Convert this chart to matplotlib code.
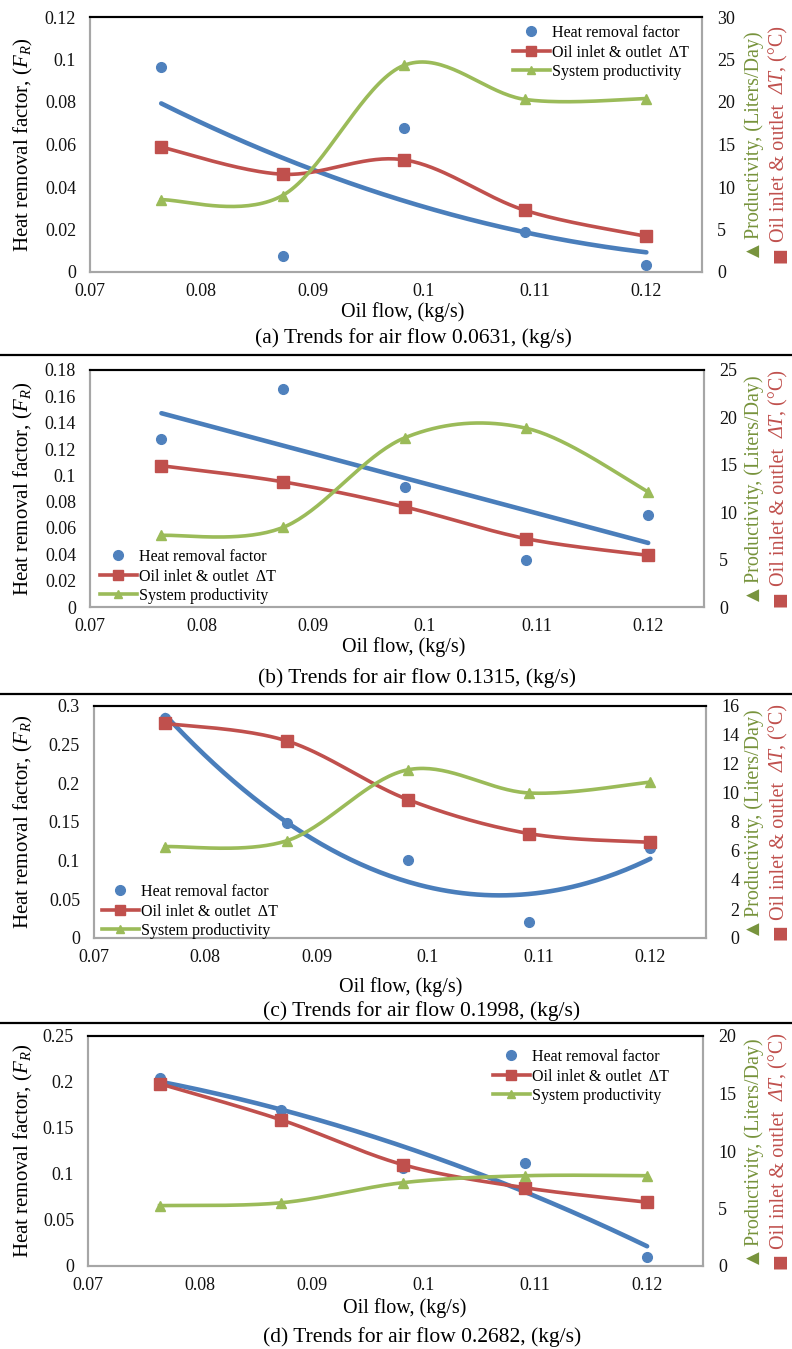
import numpy as np
import matplotlib
matplotlib.use("Agg")
import matplotlib.pyplot as plt
from matplotlib.lines import Line2D
from matplotlib.ticker import FuncFormatter

W, H = 792, 1349

# ---------------- data ----------------
oil_flow = [0.0764, 0.0873, 0.0982, 0.1091, 0.12]
x_ticks = [0.07, 0.08, 0.09, 0.1, 0.11, 0.12]

fr_a = [0.0966, 0.0077, 0.068, 0.0187, 0.0035]
dt_a = [14.7, 11.5, 13.2, 7.25, 4.2]
prod_a = [8.5, 9.0, 24.3, 20.3, 20.4]

fr_b = [0.1275, 0.1658, 0.0913, 0.0355, 0.0695]
dt_b = [14.9, 13.2, 10.55, 7.2, 5.45]
prod_b = [7.55, 8.4, 17.85, 18.85, 12.15]

fr_c = [0.284, 0.1493, 0.1007, 0.0202, 0.1162]
dt_c = [14.8, 13.6, 9.55, 7.2, 6.6]
prod_c = [6.3, 6.7, 11.6, 10.0, 10.75]

fr_d = [0.2047, 0.1692, 0.1065, 0.1123, 0.0094]
dt_d = [15.85, 12.7, 8.8, 6.8, 5.55]
prod_d = [5.25, 5.5, 7.25, 7.85, 7.85]

captions = ["(a) Trends for air flow 0.0631, (kg/s)",
            "(b) Trends for air flow 0.1315, (kg/s)",
            "(c) Trends for air flow 0.1998, (kg/s)",
            "(d) Trends for air flow 0.2682, (kg/s)"]
legend_labels = ["Heat removal factor", "Oil inlet & outlet  \u0394T", "System productivity"]
xlabel_text = "Oil flow, (kg/s)"
ylabel_text = r"Heat removal factor, ($F_R$)"

# ---------------- style ----------------
BLUE = "#4F81BD"
BLUE_T = "#4A7EBB"
RED = "#C0504D"
GREEN = "#9BBB59"
GREEN_TXT = "#77933C"
SERIF = "Liberation Serif"

plt.rcParams.update({
    "font.family": [SERIF, "DejaVu Sans"],
    "mathtext.fontset": "custom",
    "mathtext.rm": SERIF,
    "mathtext.it": SERIF + ":italic",
    "mathtext.bf": SERIF + ":bold",
})

fig = plt.figure(figsize=(W / 100, H / 100), dpi=100)


def fx(px):
    return px / W


def fy(py):
    return 1 - py / H


def smooth(x, y, n=40):
    """Excel-like smoothed line (Catmull-Rom as cubic Bezier)."""
    p = np.column_stack([x, y]).astype(float)
    ext = np.vstack([p[0], p, p[-1]])
    out = []
    t = np.linspace(0, 1, n)[:, None]
    for i in range(len(p) - 1):
        p0, p1, p2, p3 = ext[i], ext[i + 1], ext[i + 2], ext[i + 3]
        c1 = p1 + (p2 - p0) / 6.0
        c2 = p2 - (p3 - p1) / 6.0
        seg = ((1 - t) ** 3) * p1 + 3 * ((1 - t) ** 2) * t * c1 + 3 * (1 - t) * t ** 2 * c2 + t ** 3 * p2
        out.append(seg if i == 0 else seg[1:])
    s = np.vstack(out)
    return s[:, 0], s[:, 1]


def fmt(v, pos):
    return "%g" % round(v, 6)


def vstack_text(x_px, yc_px, pieces):
    texts = [fig.text(0, 0, s, rotation=90, ha="center", va="bottom", **kw) for s, kw in pieces]
    r = fig.canvas.get_renderer()
    hs = [t.get_window_extent(r).height for t in texts]
    y = (H - yc_px) - sum(hs) / 2
    for t, h in zip(texts, hs):
        t.set_position((fx(x_px), y / H))
        y += h


panels = [
    dict(fr=fr_a, dt=dt_a, prod=prod_a, deg=2, box=(90, 17, 702, 272),
         yl=(0, 0.12, 0.02), yr=(0, 30, 5), leg=(513, 25), cap=captions[0],
         xl_y=312, cap_y=338, xl_x=403, cap_x=413, rha="left"),
    dict(fr=fr_b, dt=dt_b, prod=prod_b, deg=1, box=(90, 370, 704, 607),
         yl=(0, 0.18, 0.02), yr=(0, 25, 5), leg=(100, 549), cap=captions[1],
         xl_y=647, cap_y=678, xl_x=404, cap_x=417, rha="left"),
    dict(fr=fr_c, dt=dt_c, prod=prod_c, deg=2, box=(94, 706, 706, 938),
         yl=(0, 0.3, 0.05), yr=(0, 16, 2), leg=(102, 884), cap=captions[2],
         xl_y=987, cap_y=1011, xl_x=401, cap_x=422, rha="right"),
    dict(fr=fr_d, dt=dt_d, prod=prod_d, deg=2, box=(88, 1036, 703, 1266),
         yl=(0, 0.25, 0.05), yr=(0, 20, 5), leg=(493, 1049), cap=captions[3],
         xl_y=1308, cap_y=1337, xl_x=405, cap_x=422, rha="left"),
]

for P in panels:
    l, t, r, b = P["box"]
    ax = fig.add_axes([fx(l), fy(b), (r - l) / W, (b - t) / H])
    ax2 = ax.twinx()

    x = np.array(oil_flow)
    fr = np.array(P["fr"])
    coef = np.polyfit(x, fr, P["deg"])
    xt = np.linspace(x[0], x[-1], 200)
    ax.plot(xt, np.polyval(coef, xt), color=BLUE_T, lw=3.3, solid_capstyle="round", zorder=2)
    ax.plot(x, fr, "o", color=BLUE, ms=7, zorder=3)

    sx, sy = smooth(x, P["dt"])
    ax2.plot(sx, sy, color=RED, lw=2.6, zorder=2)
    ax2.plot(x, P["dt"], "s", color=RED, ms=8, zorder=3)
    gx, gy = smooth(x, P["prod"])
    ax2.plot(gx, gy, color=GREEN, lw=2.6, zorder=2)
    ax2.plot(x, P["prod"], "^", color=GREEN, ms=7, zorder=3)

    ax.set_xlim(0.07, 0.125)
    ax.set_xticks(x_ticks)
    y0, y1, ys = P["yl"]
    ax.set_ylim(y0, y1)
    ax.set_yticks(np.round(np.arange(y0, y1 + ys / 2, ys), 4))
    r0, r1, rs = P["yr"]
    ax2.set_ylim(r0, r1)
    ax2.set_yticks(np.arange(r0, r1 + rs / 2, rs))
    for a in (ax, ax2):
        a.xaxis.set_major_formatter(FuncFormatter(fmt))
        a.yaxis.set_major_formatter(FuncFormatter(fmt))
        a.tick_params(length=0, labelsize=13, colors="#111111")
        for s in ("left", "right", "bottom"):
            a.spines[s].set_color("#A6A6A6")
            a.spines[s].set_linewidth(1.5)
        a.spines["top"].set_color("black")
        a.spines["top"].set_linewidth(1.5)
    ax.tick_params(axis="x", pad=8)
    ax.tick_params(axis="y", pad=10)
    if P["rha"] == "right":
        ax2.tick_params(axis="y", pad=24)
        for lab in ax2.get_yticklabels():
            lab.set_horizontalalignment("right")
    else:
        ax2.tick_params(axis="y", pad=11)
    ax.set_zorder(1)
    ax2.set_zorder(2)
    ax2.patch.set_visible(False)

    # labels
    yc = (t + b) / 2
    fig.text(fx(23), fy(yc), ylabel_text, rotation=90, ha="center", va="center", fontsize=15)
    fig.text(fx(P["xl_x"]), fy(P["xl_y"]), xlabel_text, ha="center", va="center", fontsize=14.5)
    fig.text(fx(P["cap_x"]), fy(P["cap_y"]), P["cap"], ha="center", va="center", fontsize=15.5)

    vstack_text(754, yc, [
        ("\u25B2", dict(family="DejaVu Sans", fontsize=12, color=GREEN_TXT)),
        (" Productivity, (Liters/Day)", dict(family=SERIF, fontsize=14.5, color=GREEN_TXT)),
    ])
    vstack_text(779, yc, [
        ("\u25A0", dict(family="DejaVu Sans", fontsize=12, color=RED)),
        (" Oil inlet & outlet  ", dict(family=SERIF, fontsize=14.5, color=RED)),
        ("\u0394T", dict(family=SERIF, fontsize=14.5, color=RED, style="italic")),
        (", (\u00B0C)", dict(family=SERIF, fontsize=14.5, color=RED)),
    ])

    handles = [
        Line2D([], [], ls="none", marker="o", color=BLUE, ms=7),
        Line2D([], [], color=RED, lw=2.6, marker="s", ms=7),
        Line2D([], [], color=GREEN, lw=2.6, marker="^", ms=6),
    ]
    lx, ly = P["leg"]
    fig.legend(handles, legend_labels, loc="upper left", bbox_to_anchor=(fx(lx), fy(ly)),
               bbox_transform=fig.transFigure, frameon=False, borderpad=0, borderaxespad=0,
               handlelength=2.3, handletextpad=0.15, labelspacing=0.22, fontsize=11.5,
               numpoints=1)

# separators
for yy in (355, 694, 1023):
    fig.add_artist(Line2D([0, 1], [fy(yy), fy(yy)], color="black", lw=1.6,
                          transform=fig.transFigure))

fig.savefig("out.png", dpi=100)
